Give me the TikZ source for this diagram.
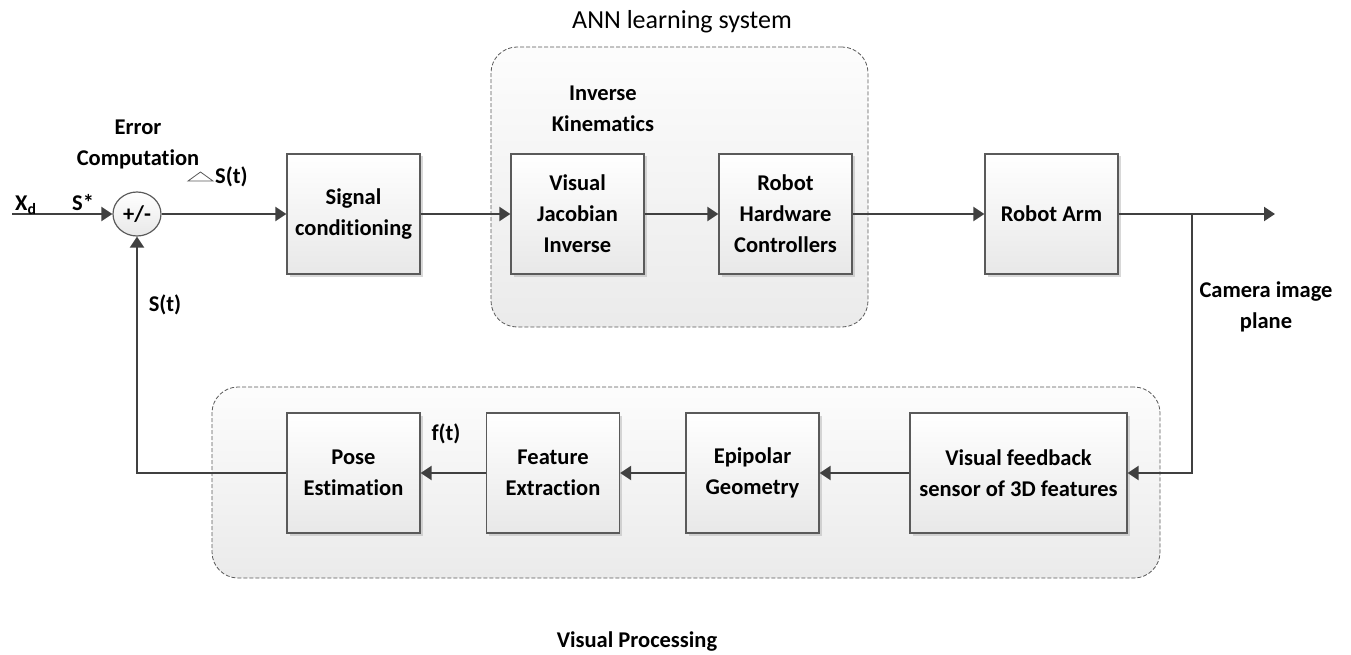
\documentclass[tikz,border=0pt]{standalone}
\usepackage{fontspec}
\setmainfont[Ligatures={NoCommon}]{Carlito}
\usetikzlibrary{arrows.meta,shadows,shapes.geometric}
\definecolor{ln}{HTML}{404040}
\definecolor{bd}{HTML}{5A5A5A}
\tikzset{
  blk/.style={draw=bd, line width=1.2pt, top color=white, bottom color=black!9,
    minimum height=120pt, inner sep=2pt, align=center,
    font=\fontsize{22.5}{31}\selectfont\bfseries,
    drop shadow={shadow xshift=2.5pt, shadow yshift=-2.5pt, fill=black!30, opacity=0.5}},
  grp/.style={draw=black!65, line width=0.8pt, dash pattern=on 4pt off 2pt,
    rounded corners=26pt, top color=black!1, bottom color=black!8, inner sep=0pt},
  lbl/.style={font=\fontsize{22.5}{31}\selectfont\bfseries, align=center, inner sep=0pt},
  arr/.style={draw=ln, line width=2pt, -{Triangle[length=11pt,width=14pt]}},
  wire/.style={draw=ln, line width=2pt},
}
\begin{document}
\begin{tikzpicture}[x=1pt,y=-1pt]
\useasboundingbox (0,0) rectangle (1351,655);
% containers
\node[grp, minimum width=377pt, minimum height=280pt] (ann) at (679.5,187) {};
\node[grp, minimum width=948pt, minimum height=191pt] (vp) at (686,482.5) {};
\node[font=\fontsize{26}{30}\selectfont, inner sep=0pt] (anntitle) at (682,22) {ANN learning system};
\node[lbl] (vptitle) at (637,642) {Visual Processing};
% summing junction
\node[draw=bd, line width=1.2pt, ellipse, minimum width=48pt, minimum height=44pt, inner sep=0pt,
  top color=white, bottom color=black!9, font=\fontsize{22.5}{26}\selectfont\bfseries] (sum) at (137,214) {+/-};
% blocks
\node[blk, minimum width=133pt] (sig) at (353.5,214) {Signal\\conditioning};
\node[blk, minimum width=133pt] (vji) at (577.5,214) {Visual\\Jacobian\\Inverse};
\node[blk, minimum width=133pt] (rhc) at (785.5,214) {Robot\\Hardware\\Controllers};
\node[blk, minimum width=133pt] (arm) at (1051.5,214) {Robot Arm};
\node[blk, minimum width=217pt] (vf) at (1018.5,473) {Visual feedback\\sensor of 3D features};
\node[blk, minimum width=133pt] (epi) at (752.5,473) {Epipolar\\Geometry};
\node[blk, minimum width=133pt] (fe) at (553,473) {Feature\\Extraction};
\node[blk, minimum width=133pt] (pose) at (353.5,473) {Pose\\Estimation};
% coordinates
\coordinate (xin) at (12,214);
\coordinate (out) at (1275,214);
\coordinate (br) at (1192,214);
\coordinate (brd) at (1192,473);
\coordinate (fbl) at (137,473);
% connectors
\draw[arr] (xin) -- (sum);
\draw[arr] (sum) -- (sig);
\draw[arr] (sig) -- (vji);
\draw[arr] (vji) -- (rhc);
\draw[arr] (rhc) -- (arm);
\draw[arr] (arm) -- (out);
\draw[arr] (br) -- (brd) -- (vf);
\draw[arr] (vf) -- (epi);
\draw[arr] (epi) -- (fe);
\draw[arr] (fe) -- (pose);
\draw[arr] (pose) -- (fbl) -- (sum);
% labels
\node[lbl, anchor=base west] (xd) at (15,211) {X\textsubscript{d}};
\node[lbl, anchor=base west] (sstar) at (72,211) {S*};
\node[lbl] (err) at (138,144) {Error\\Computation};
\draw[draw=bd, line width=0.8pt, fill=white] (188,181) -- (200.5,172) -- (213,181) -- cycle;
\node[lbl, anchor=west] (st1) at (215,177) {S(t)};
\node[lbl] (st2) at (165,305) {S(t)};
\node[lbl] (ik) at (603,109) {Inverse\\Kinematics};
\node[lbl] (ft) at (446,434) {f(t)};
\node[lbl] (cam) at (1266,307) {Camera image\\plane};
\end{tikzpicture}
\end{document}
